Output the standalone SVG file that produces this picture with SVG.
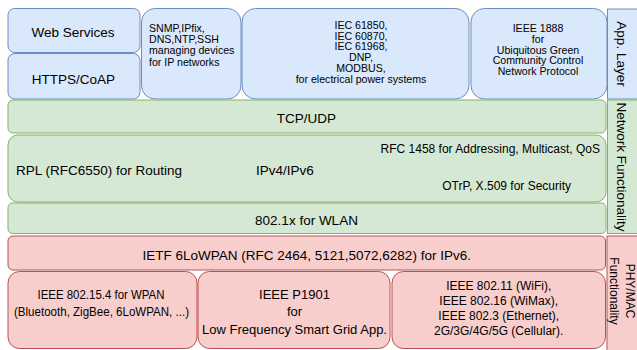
<svg xmlns="http://www.w3.org/2000/svg" width="637" height="350" viewBox="0 0 637 350">
<style>
  text { font-family: "Liberation Sans", Arial, Helvetica, sans-serif; fill: #000; }
  .blue { fill: #dae8fc; stroke: #6c8ebf; stroke-width: 1; }
  .green { fill: #d5e8d4; stroke: #82b366; stroke-width: 1; }
  .red { fill: #f8cecc; stroke: #b85450; stroke-width: 1; }
  .big { font-size: 13.5px; }
  .mid { font-size: 12px; }
  .small { font-size: 10.6px; }
  .c { text-anchor: middle; }
  .r { text-anchor: end; }
</style>
<rect width="637" height="350" fill="#ffffff"/>

<g id="web-services">
  <rect class="blue" x="8" y="8.5" width="132" height="44" rx="6.6"/>
  <text class="big c" x="73" y="37">Web Services</text>
</g>
<g id="https-coap">
  <rect class="blue" x="8" y="53.5" width="132" height="45.5" rx="6.8"/>
  <text class="big c" x="73.5" y="83.6">HTTPS/CoAP</text>
</g>
<g id="snmp">
  <rect class="blue" x="141.5" y="8.5" width="99.5" height="90.5" rx="13.6"/>
  <text class="small" x="149" y="32">SNMP,IPfix,</text>
  <text class="small" x="149" y="43.2">DNS,NTP,SSH</text>
  <text class="small" x="149" y="54.4">managing devices</text>
  <text class="small" x="149" y="65.6">for IP networks</text>
</g>
<g id="iec">
  <rect class="blue" x="242" y="8.5" width="227" height="90.5" rx="13.6"/>
  <text class="small c" x="361" y="28.8">IEC 61850,</text>
  <text class="small c" x="361" y="39.6">IEC 60870,</text>
  <text class="small c" x="361" y="50.4">IEC 61968,</text>
  <text class="small c" x="361" y="61.2">DNP,</text>
  <text class="small c" x="361" y="72">MODBUS,</text>
  <text class="small c" x="361" y="82.8">for electrical power systems</text>
</g>
<g id="ieee1888">
  <rect class="blue" x="471" y="8.5" width="136" height="90.5" rx="13.6"/>
  <text class="small c" x="538" y="32">IEEE 1888</text>
  <text class="small c" x="538" y="42.8">for</text>
  <text class="small c" x="538" y="53.6">Ubiquitous Green</text>
  <text class="small c" x="538" y="64.4">Community Control</text>
  <text class="small c" x="538" y="75.2">Network Protocol</text>
</g>
<g id="app-layer">
  <rect class="blue" x="607.5" y="9" width="40" height="90"/>
  <text class="big c" transform="translate(621.5,54) rotate(90)" x="0" y="4.5">App. Layer</text>
</g>

<g id="tcp-udp">
  <rect class="green" x="8" y="100" width="598" height="33" rx="5"/>
  <text class="big c" x="306.5" y="123.2">TCP/UDP</text>
</g>
<g id="ip">
  <rect class="green" x="8" y="135" width="598" height="67" rx="10"/>
  <text class="big" x="16" y="174.8">RPL (RFC6550) for Routing</text>
  <text class="big" x="256" y="174.8">IPv4/IPv6</text>
  <text class="mid r" x="600" y="153.3">RFC 1458 for Addressing, Multicast, QoS</text>
  <text class="mid r" x="571" y="190">OTrP, X.509 for Security</text>
</g>
<g id="wlan">
  <rect class="green" x="8" y="203" width="598" height="30.5" rx="4.6"/>
  <text class="big c" x="306.5" y="224.8">802.1x for WLAN</text>
</g>
<g id="network-functionality">
  <rect class="green" x="607.5" y="100" width="40" height="133.5"/>
  <text class="big c" transform="translate(622,167) rotate(90)" x="0" y="4.8">Network Functionality</text>
</g>

<g id="6lowpan">
  <rect class="red" x="8" y="236" width="597.5" height="34" rx="5"/>
  <text class="big c" x="306.7" y="259.6">IETF 6LoWPAN (RFC 2464, 5121,5072,6282) for IPv6.</text>
</g>
<g id="wpan">
  <rect class="red" x="8" y="271.5" width="189" height="77" rx="11.5"/>
  <text class="c" font-size="12.5px" x="101" y="298.5" textLength="127" lengthAdjust="spacingAndGlyphs">IEEE 802.15.4 for WPAN</text>
  <text class="c" font-size="12.5px" x="101.5" y="315.5" textLength="175" lengthAdjust="spacingAndGlyphs">(Bluetooth, ZigBee, 6LoWPAN, ...)</text>
</g>
<g id="p1901">
  <rect class="red" x="198" y="271.5" width="192" height="77" rx="11.5"/>
  <text class="c" font-size="13px" x="294.5" y="298.5">IEEE P1901</text>
  <text class="c" font-size="13px" x="294.5" y="316">for</text>
  <text class="c" font-size="13px" x="294.5" y="333.5">Low Frequency Smart Grid App.</text>
</g>
<g id="wireless">
  <rect class="red" x="392" y="271.5" width="213.5" height="77" rx="11.5"/>
  <text class="mid c" x="498.7" y="290.2">IEEE 802.11 (WiFi),</text>
  <text class="mid c" x="498.7" y="305.2">IEEE 802.16 (WiMax),</text>
  <text class="mid c" x="498.7" y="320.2">IEEE 802.3 (Ethernet),</text>
  <text class="mid c" x="498.7" y="335.2">2G/3G/4G/5G (Cellular).</text>
</g>
<g id="phy-mac">
  <rect class="red" x="607" y="236" width="40" height="120"/>
  <text class="mid c" transform="translate(622,291) rotate(90)" x="0" y="-3.7">PHY/MAC</text>
  <text class="mid c" transform="translate(622,291) rotate(90)" x="0" y="12.3">Functionality</text>
</g>
</svg>
